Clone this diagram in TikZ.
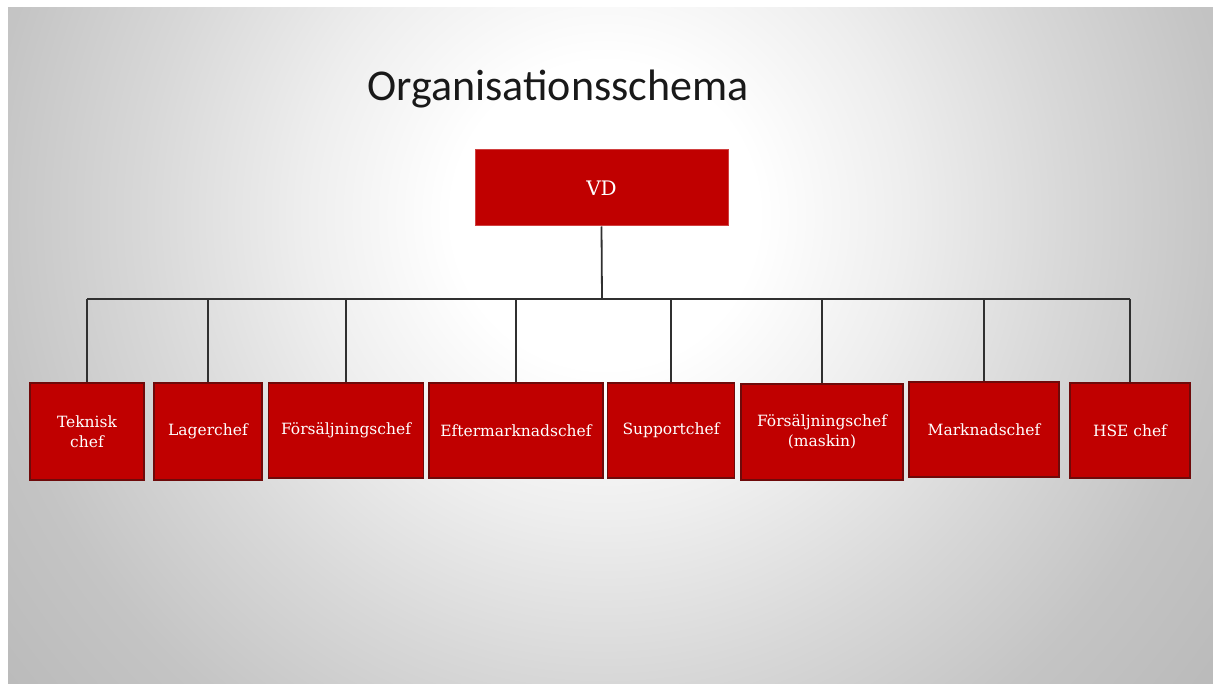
\documentclass[tikz,border=0pt]{standalone}
\usepackage{fontspec}
\setmainfont{DejaVu Serif}
\newfontfamily\titlefont{Carlito}

\definecolor{boxred}{HTML}{C00000}
\definecolor{boxedge}{HTML}{6E0A0A}
\definecolor{wire}{HTML}{303030}
\definecolor{bgA}{HTML}{EEEEEE}
\definecolor{bgB}{HTML}{D8D8D8}
\definecolor{bgC}{HTML}{C4C4C4}
\definecolor{bgD}{HTML}{B8B8B8}

% soft spotlight behind the chart (outer radius 100bp)
\pgfdeclareradialshading{spot}{\pgfpoint{0bp}{0bp}}{%
  color(0bp)=(white); color(19bp)=(white); color(37.5bp)=(bgA);
  color(57.5bp)=(bgB); color(77.5bp)=(bgC); color(100bp)=(bgD)}

\tikzset{
  unit/.style={draw=boxedge, line width=1.3pt, fill=boxred, text=white,
    align=center, inner sep=2pt, font=\fontsize{15.5}{20}\selectfont},
  topunit/.style={unit, line width=1pt, draw=boxred!75!white, font=\fontsize{20}{24}\selectfont},
  wireline/.style={draw=wire, line width=1.8pt},
}

\begin{document}
\begin{tikzpicture}[x=1pt, y=-1pt]
  \useasboundingbox (0,0) rectangle (1213,684);
  \fill[white] (0,0) rectangle (1213,684);
  \begin{scope}
    \clip (8,8) rectangle (1213,684);
    \fill[bgD] (8,8) rectangle (1213,684);
    \begin{scope}[shift={(605,215)}, scale=8]
      \pgflowlevelsynccm
      \pgftext{\pgfuseshading{spot}}
    \end{scope}
  \end{scope}

  \node[font=\titlefont\fontsize{44}{50}\selectfont, text=black!90, anchor=base] (title)
    at (558,101) {Organisationsschema};

  % executive
  \node[topunit, minimum width=253pt, minimum height=76pt] (vd) at (601.5,188) {VD};

  % managers
  \node[unit, minimum width=114pt, minimum height=97pt] (tek) at (87,431.5)   {Teknisk\\chef};
  \node[unit, minimum width=108pt, minimum height=97pt] (lag) at (208,431.5)  {Lagerchef};
  \node[unit, minimum width=155pt, minimum height=95pt] (fors) at (346,430.5) {Försäljningschef};
  \node[unit, minimum width=174pt, minimum height=95pt] (eft) at (516,430.5)  {Eftermarknadschef};
  \node[unit, minimum width=127pt, minimum height=95pt] (sup) at (671,430.5) {Supportchef};
  \node[unit, minimum width=162pt, minimum height=96pt] (fm) at (822,432)    {Försäljningschef\\(maskin)};
  \node[unit, minimum width=150pt, minimum height=95pt] (mark) at (984,429.5) {Marknadschef};
  \node[unit, minimum width=120pt, minimum height=95pt] (hse) at (1130,430.5) {HSE chef};

  % connectors
  \coordinate (bus) at (602,299);
  \draw[wireline] (vd.south) -- (bus);
  \draw[wireline] (tek.north |- bus) -- (hse.north |- bus);
  \foreach \n in {tek,lag,fors,eft,sup,fm,mark,hse}
    \draw[wireline] (\n.north |- bus) -- (\n.north);
\end{tikzpicture}
\end{document}
